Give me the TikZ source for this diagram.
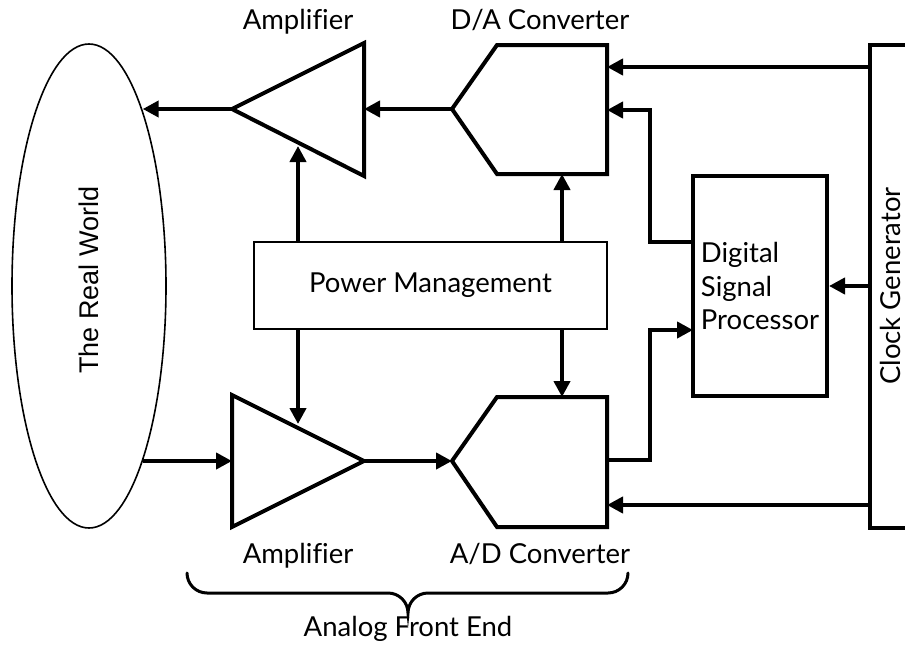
\documentclass[tikz,border=0pt]{standalone}
\usepackage{fontspec}
\setmainfont{Lato}[Ligatures=CommonOff]
\newfontfamily\worldfont{Liberation Sans}
\usetikzlibrary{arrows.meta,shapes.geometric}

\begin{document}
\begin{tikzpicture}[x=1pt,y=-1pt,
  heavy/.style={line width=4pt, line join=miter},
  light/.style={line width=1.6pt},
  conn/.style={line width=4pt, -{Triangle[length=16pt,width=16pt]}},
  lbl/.style={font=\fontsize{27.5}{33.5}\selectfont, inner sep=0pt},
]
\useasboundingbox (0,0) rectangle (905,645);
\clip (0,0) rectangle (905,645);

% the outside world
\node[draw, light, ellipse, minimum width=154pt, minimum height=484pt, inner sep=0pt] (world) at (89,286) {};
\node[rotate=90, inner sep=0pt, font=\worldfont\fontsize{27}{30}\selectfont] (worldtxt) at (89,280) {The Real World};

% output amplifier (triangle pointing left)
\draw[heavy] (364,43) -- (364,176) -- (232,109) -- cycle;
\coordinate (ampTout) at (232,109);
\coordinate (ampTin)  at (364,109);
\coordinate (ampTpow) at (298,146);
\node[lbl, anchor=base] (ampTlbl) at (298,29) {Amplifier};

% D/A converter
\draw[heavy] (452,109) -- (497,45) -- (607,45) -- (607,174) -- (497,174) -- cycle;
\coordinate (daOut)  at (452,109);
\coordinate (daClk)  at (607,67);
\coordinate (daData) at (607,110);
\coordinate (daPow)  at (562,174);
\node[lbl, anchor=base] (dalbl) at (540,29) {D/A Converter};

% input amplifier (triangle pointing right)
\draw[heavy] (232,395) -- (364,461) -- (232,527) -- cycle;
\coordinate (ampBin)  at (232,461);
\coordinate (ampBout) at (364,461);
\coordinate (ampBpow) at (298,424);
\node[lbl, anchor=base] (ampBlbl) at (298,563) {Amplifier};

% A/D converter
\draw[heavy] (452,461) -- (497,397) -- (607,397) -- (607,527) -- (497,527) -- cycle;
\coordinate (adIn)  at (452,461);
\coordinate (adOut) at (607,460);
\coordinate (adClk) at (607,505);
\coordinate (adPow) at (562,397);
\node[lbl, anchor=base] (adlbl) at (540,563) {A/D Converter};

% power management
\node[draw, light, lbl, minimum width=353pt, minimum height=87pt] (pm) at (430.5,285.5) {Power Management};

% digital signal processor
\node[draw, heavy, lbl, align=left, minimum width=134pt, minimum height=220pt] (dsp) at (760,286) {Digital\\Signal\\Processor};
\coordinate (dspOut) at (693,242);
\coordinate (dspIn)  at (693,330);

% clock generator
\node[draw, heavy, minimum width=70pt, minimum height=483pt] (clk) at (905,286.5) {};
\node[lbl, rotate=90] (clktxt) at (890,286) {Clock Generator};

% signal path
\draw[conn] (ampTout) -- (world.73 |- ampTout);
\draw[conn] (daOut) -- (ampTin);
\draw[conn] (world.-73 |- ampBin) -- (ampBin);
\draw[conn] (ampBout) -- (adIn);
\draw[conn] (dspOut) -- ++(-43,0) |- (daData);
\draw[conn] (adOut) -- ++(43,0) |- (dspIn);

% clock distribution
\draw[conn] (clk.west |- daClk) -- (daClk);
\draw[conn] (clk.west |- dsp.east) -- (dsp.east);
\draw[conn] (clk.west |- adClk) -- (adClk);

% power distribution
\draw[conn] (pm.north -| ampTpow) -- (ampTpow);
\draw[conn] (pm.north -| daPow) -- (daPow);
\draw[conn] (pm.south -| ampBpow) -- (ampBpow);
\draw[conn] (pm.south -| adPow) -- (adPow);

% front-end brace
\draw[line width=3pt, line cap=round] (187,573) arc[start angle=180, end angle=90, radius=20] -- (388,593)
  arc[start angle=270, end angle=360, radius=20] coordinate (bracetip)
  arc[start angle=180, end angle=270, radius=20] -- (608,593)
  arc[start angle=90, end angle=0, radius=20];
\node[lbl, anchor=base] (afelbl) at (408,636) {Analog Front End};
\end{tikzpicture}
\end{document}
